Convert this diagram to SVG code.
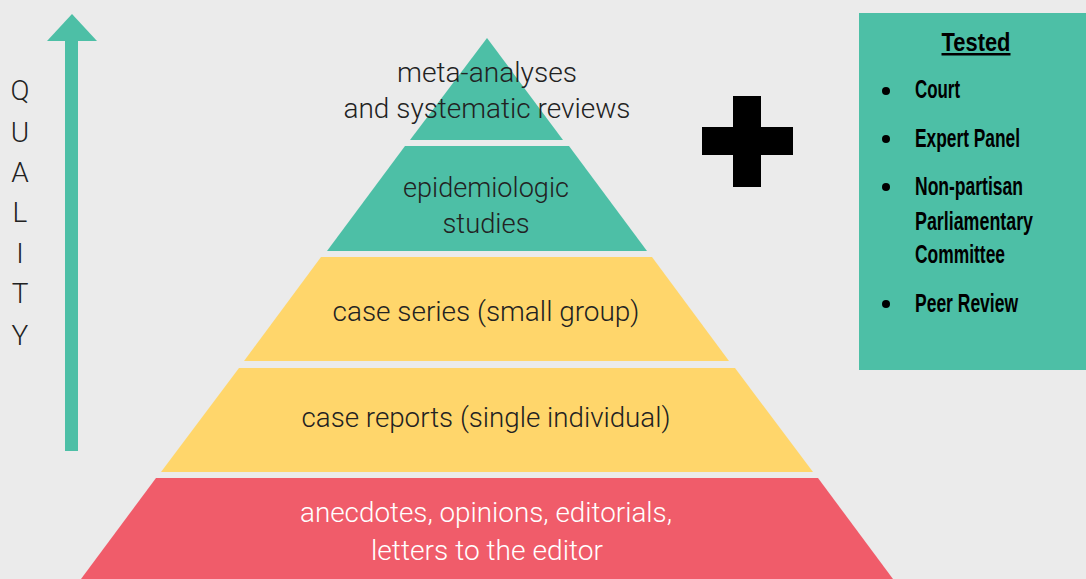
<svg xmlns="http://www.w3.org/2000/svg" width="1086" height="579" viewBox="0 0 1086 579">
<style>
.lvl{font-family:Roboto,"Liberation Sans",sans-serif;font-weight:300;font-size:27px;fill:#222;text-anchor:middle}
.wt{fill:#fff}
.q{font-family:Roboto,"Liberation Sans",sans-serif;font-weight:300;font-size:28px;fill:#222;text-anchor:middle}
.li{font-family:"Liberation Sans Narrow","Liberation Sans",sans-serif;font-weight:bold;font-size:25px;fill:#000}
.green{fill:#4dbfa6}
.yellow{fill:#ffd66b}
.red{fill:#f05c6a}
</style>
<rect width="1086" height="579" fill="#ebebeb"/>
<g id="quality-axis">
<rect x="65" y="40" width="13" height="411" class="green"/>
<polygon points="72,14 97,41 47,41" class="green"/>
<text class="q" x="20" y="100">Q</text>
<text class="q" x="20" y="142">U</text>
<text class="q" x="20" y="182">A</text>
<text class="q" x="20" y="222">L</text>
<text class="q" x="20" y="263">I</text>
<text class="q" x="20" y="303">T</text>
<text class="q" x="20" y="345">Y</text>
</g>
<g id="level-meta">
<polygon points="487,38 563,140 410,140" class="green"/>
<text class="lvl" x="487" y="82" textLength="180" lengthAdjust="spacingAndGlyphs">meta-analyses</text>
<text class="lvl" x="487" y="118" textLength="287" lengthAdjust="spacingAndGlyphs">and systematic reviews</text>
</g>
<g id="level-epi">
<polygon points="405,146 569,146 647,251 327,251" class="green"/>
<text class="lvl" x="486" y="197" textLength="166" lengthAdjust="spacingAndGlyphs">epidemiologic</text>
<text class="lvl" x="486" y="233" textLength="87" lengthAdjust="spacingAndGlyphs">studies</text>
</g>
<g id="level-series">
<polygon points="321,257 652,257 729,361 244,361" class="yellow"/>
<text class="lvl" x="486" y="321" textLength="307" lengthAdjust="spacingAndGlyphs">case series (small group)</text>
</g>
<g id="level-reports">
<polygon points="239,368 735,368 813,472 161,472" class="yellow"/>
<text class="lvl" x="486" y="427" textLength="369" lengthAdjust="spacingAndGlyphs">case reports (single individual)</text>
</g>
<g id="level-anecdotes">
<polygon points="156,478 818,478 893,579 81,579" class="red"/>
<text class="lvl wt" x="486" y="522" textLength="372" lengthAdjust="spacingAndGlyphs">anecdotes, opinions, editorials,</text>
<text class="lvl wt" x="487" y="560" textLength="232" lengthAdjust="spacingAndGlyphs">letters to the editor</text>
</g>
<g id="plus">
<rect x="733" y="96" width="28" height="91" fill="#000"/>
<rect x="702" y="127" width="91" height="28" fill="#000"/>
</g>
<g id="tested-box">
<rect x="859" y="13" width="227" height="357" class="green"/>
<text class="li" x="976" y="51" text-anchor="middle" font-size="27" text-decoration="underline" textLength="69" lengthAdjust="spacingAndGlyphs">Tested</text>
<circle cx="886" cy="91" r="4" fill="#000"/>
<text class="li" x="915" y="98" textLength="45" lengthAdjust="spacingAndGlyphs">Court</text>
<circle cx="886" cy="139" r="4" fill="#000"/>
<text class="li" x="915" y="147" textLength="105" lengthAdjust="spacingAndGlyphs">Expert Panel</text>
<circle cx="886" cy="187" r="4" fill="#000"/>
<text class="li" x="915" y="195" textLength="108" lengthAdjust="spacingAndGlyphs">Non-partisan</text>
<text class="li" x="915" y="230" textLength="118" lengthAdjust="spacingAndGlyphs">Parliamentary</text>
<text class="li" x="915" y="263" textLength="90" lengthAdjust="spacingAndGlyphs">Committee</text>
<circle cx="886" cy="304" r="4" fill="#000"/>
<text class="li" x="915" y="312" textLength="103" lengthAdjust="spacingAndGlyphs">Peer Review</text>
</g>
</svg>
